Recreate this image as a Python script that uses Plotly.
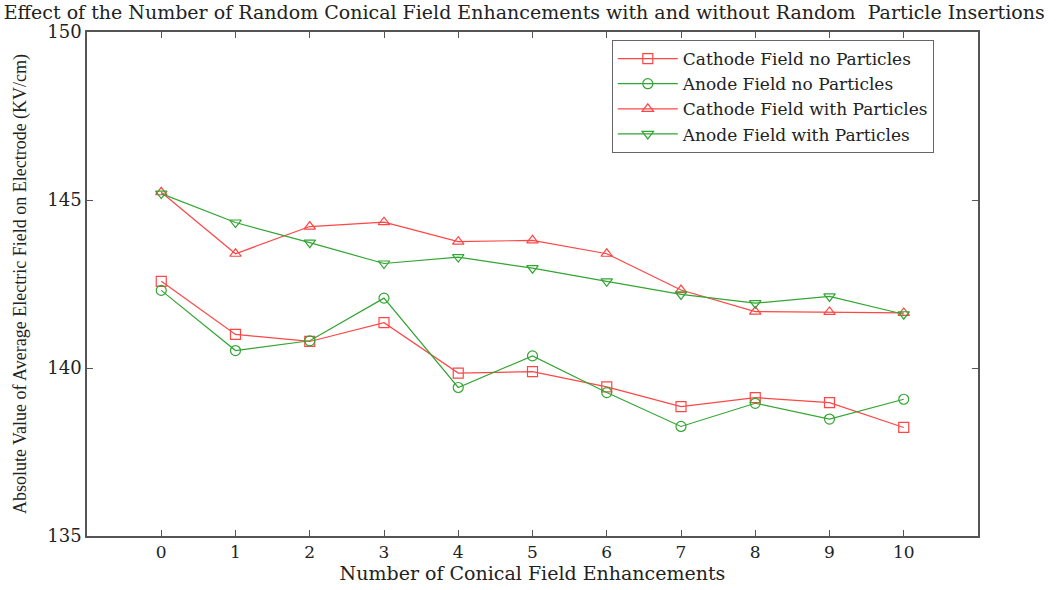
import plotly.graph_objects as go

x_vals = list(range(11))
cathode_no = [142.58, 141.00, 140.79, 141.35, 139.85, 139.89, 139.44, 138.85, 139.12, 138.97, 138.23]
anode_no = [142.31, 140.52, 140.81, 142.08, 139.42, 140.36, 139.27, 138.26, 138.95, 138.48, 139.07]
cathode_with = [145.23, 143.40, 144.21, 144.34, 143.76, 143.80, 143.40, 142.32, 141.68, 141.67, 141.64]
anode_with = [145.19, 144.33, 143.73, 143.11, 143.30, 142.97, 142.58, 142.19, 141.93, 142.13, 141.60]

RED = "rgb(255,70,70)"
GREEN = "rgb(50,165,50)"
WIDE = "DejaVu Serif"
SERIF = "Liberation Serif"

fig = go.Figure()
series = [
    ("Cathode Field no Particles", cathode_no, RED, "square-open"),
    ("Anode Field no Particles", anode_no, GREEN, "circle-open"),
    ("Cathode Field with Particles", cathode_with, RED, "triangle-up-open"),
    ("Anode Field with Particles", anode_with, GREEN, "triangle-down-open"),
]
for name, ys, col, sym in series:
    fig.add_trace(go.Scatter(
        x=x_vals, y=ys, name=name, mode="lines+markers",
        line=dict(color=col, width=1.2),
        marker=dict(symbol=sym, size=10, color=col, line=dict(color=col, width=1.2)),
    ))

axis_common = dict(
    showline=True, linecolor="#555", linewidth=1.5, mirror="ticks",
    ticks="inside", ticklen=6, tickcolor="#555", showgrid=False, zeroline=False,
)
fig.update_xaxes(range=[-1, 11], tickvals=x_vals,
                 tickfont=dict(family=WIDE, size=17, color="#222"),
                 title=dict(text="Number of Conical Field Enhancements", standoff=3,
                            font=dict(family=WIDE, size=19, color="#222")),
                 **axis_common)
fig.update_yaxes(range=[135, 150], tickvals=[135, 140, 145, 150],
                 tickfont=dict(family=WIDE, size=18, color="#222"),
                 title=dict(text="Absolute Value of Average Electric Field on Electrode (KV/cm)", standoff=16,
                            font=dict(family=SERIF, size=18, color="#222")),
                 **axis_common)

fig.update_layout(
    width=1059, height=590,
    margin=dict(l=87, r=81, t=32, b=49),
    paper_bgcolor="white", plot_bgcolor="white",
    title=dict(text="Effect of the Number of Random Conical Field Enhancements with and without Random  Particle Insertions",
               x=0.495, xanchor="center", y=0.99, yanchor="top",
               font=dict(family=WIDE, size=19, color="#222")),
    legend=dict(x=0.589, y=0.984, xanchor="left", yanchor="top",
                bgcolor="white", bordercolor="#666", borderwidth=1,
                font=dict(family=WIDE, size=17, color="#222"),
                tracegroupgap=0, itemwidth=60),
    showlegend=True,
)

fig.write_html("out.html")
